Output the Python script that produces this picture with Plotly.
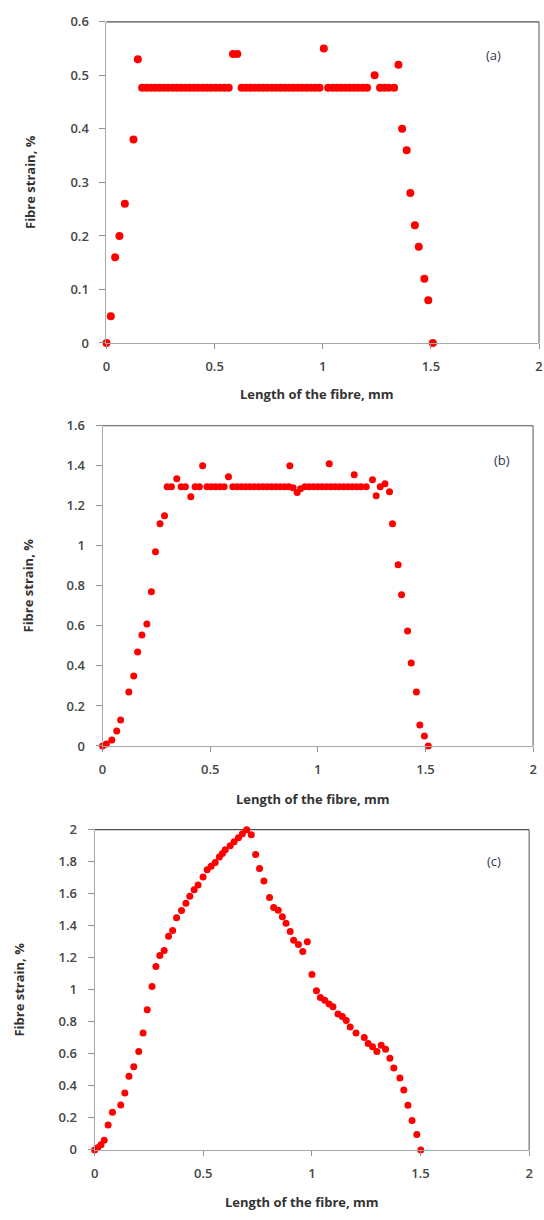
import plotly.graph_objects as go

# ---------------- data ----------------
A_X = [0, 0.02, 0.04, 0.06, 0.085, 0.125, 0.145,
       0.165, 0.185, 0.205, 0.225, 0.245, 0.265, 0.285, 0.305, 0.325, 0.345, 0.365,
       0.385, 0.405, 0.425, 0.445, 0.465, 0.485, 0.505, 0.525, 0.545, 0.565,
       0.585, 0.605,
       0.625, 0.645, 0.665, 0.685, 0.705, 0.725, 0.745, 0.765, 0.785, 0.805, 0.825,
       0.845, 0.865, 0.885, 0.905, 0.925, 0.945, 0.965, 0.985,
       1.005,
       1.025, 1.045, 1.065, 1.085, 1.105, 1.125, 1.145, 1.165, 1.185, 1.205,
       1.24,
       1.265, 1.285, 1.305, 1.33,
       1.35, 1.367, 1.388, 1.405, 1.426, 1.444, 1.47, 1.488, 1.509]
A_Y = [0, 0.05, 0.16, 0.2, 0.26, 0.38, 0.53,
       0.477, 0.477, 0.477, 0.477, 0.477, 0.477, 0.477, 0.477, 0.477, 0.477, 0.477,
       0.477, 0.477, 0.477, 0.477, 0.477, 0.477, 0.477, 0.477, 0.477, 0.477,
       0.54, 0.54,
       0.477, 0.477, 0.477, 0.477, 0.477, 0.477, 0.477, 0.477, 0.477, 0.477, 0.477,
       0.477, 0.477, 0.477, 0.477, 0.477, 0.477, 0.477, 0.477,
       0.55,
       0.477, 0.477, 0.477, 0.477, 0.477, 0.477, 0.477, 0.477, 0.477, 0.477,
       0.50,
       0.477, 0.477, 0.477, 0.477,
       0.52, 0.40, 0.36, 0.28, 0.22, 0.18, 0.12, 0.08, 0]

B_X = [0, 0.018, 0.043, 0.066, 0.084, 0.122, 0.145, 0.163, 0.183, 0.206, 0.227, 0.246,
       0.267, 0.288,
       0.30, 0.32, 0.345, 0.365, 0.385, 0.41, 0.43, 0.45, 0.465, 0.485, 0.505, 0.525,
       0.545, 0.565, 0.585, 0.605, 0.625, 0.645, 0.665, 0.685, 0.705, 0.725, 0.745,
       0.765, 0.785, 0.805, 0.825, 0.845, 0.865, 0.87, 0.885, 0.904, 0.92, 0.94,
       0.96, 0.98, 1.00, 1.02, 1.04, 1.053, 1.06, 1.08, 1.10, 1.12, 1.14, 1.16, 1.169,
       1.18, 1.20, 1.225, 1.254, 1.271, 1.29, 1.312, 1.333,
       1.347, 1.373, 1.389, 1.417, 1.434, 1.458, 1.474, 1.495, 1.513]
B_Y = [0, 0.01, 0.03, 0.075, 0.13, 0.27, 0.35, 0.47, 0.555, 0.61, 0.77, 0.97,
       1.11, 1.15,
       1.295, 1.295, 1.335, 1.295, 1.295, 1.245, 1.295, 1.295, 1.40, 1.295, 1.295, 1.295,
       1.295, 1.295, 1.345, 1.295, 1.295, 1.295, 1.295, 1.295, 1.295, 1.295, 1.295,
       1.295, 1.295, 1.295, 1.295, 1.295, 1.295, 1.40, 1.29, 1.267, 1.285, 1.295,
       1.295, 1.295, 1.295, 1.295, 1.295, 1.41, 1.295, 1.295, 1.295, 1.295, 1.295, 1.295, 1.355,
       1.295, 1.295, 1.295, 1.33, 1.25, 1.295, 1.31, 1.27,
       1.11, 0.905, 0.755, 0.575, 0.415, 0.27, 0.105, 0.05, 0]

C_X = [0, 0.014, 0.029, 0.044, 0.062, 0.082, 0.12, 0.139, 0.158, 0.18, 0.203, 0.223,
       0.242, 0.264, 0.282, 0.30, 0.32, 0.34, 0.359, 0.377, 0.40, 0.42, 0.438, 0.458,
       0.476, 0.499, 0.518, 0.536, 0.555, 0.574, 0.588, 0.601, 0.624, 0.642, 0.662,
       0.68, 0.70, 0.721, 0.741, 0.759, 0.779, 0.805, 0.824, 0.845, 0.864, 0.881,
       0.90, 0.916, 0.938, 0.958, 0.979, 1.0, 1.021, 1.039, 1.059, 1.079, 1.097,
       1.12, 1.14, 1.158, 1.176, 1.203, 1.241, 1.259, 1.279, 1.299, 1.319, 1.339,
       1.359, 1.377, 1.405, 1.423, 1.442, 1.461, 1.483, 1.501]
C_Y = [0, 0.014, 0.033, 0.06, 0.155, 0.235, 0.28, 0.355, 0.46, 0.52, 0.615, 0.73,
       0.875, 1.02, 1.145, 1.215, 1.245, 1.335, 1.37, 1.45, 1.495, 1.54, 1.585, 1.625,
       1.655, 1.705, 1.75, 1.772, 1.795, 1.83, 1.852, 1.875, 1.90, 1.925, 1.95,
       1.975, 2.0, 1.968, 1.845, 1.758, 1.68, 1.577, 1.514, 1.497, 1.456, 1.415,
       1.365, 1.309, 1.283, 1.239, 1.30, 1.095, 0.994, 0.952, 0.935, 0.911, 0.894,
       0.849, 0.833, 0.808, 0.767, 0.73, 0.702, 0.665, 0.644, 0.614, 0.654, 0.628,
       0.572, 0.511, 0.449, 0.374, 0.279, 0.183, 0.097, 0]

X_TICKS = [0, 0.5, 1, 1.5, 2]
PANEL_LABELS = ["(a)", "(b)", "(c)"]
X_TITLE = "Length of the fibre, mm"
Y_TITLE = "Fibre strain, %"

# ---------------- layout geometry (pixels of a 544x1220 page) ----------------
W, H = 544, 1220
panels = [
    dict(x=A_X, y=A_Y, px=(104, 543), py=(13, 339), ymax=0.6, dtick=0.1, ms=8,
         ytx=27, xty=391, xtx=318, lab=(497, 47)),
    dict(x=B_X, y=B_Y, px=(100, 537), py=(423, 748), ymax=1.6, dtick=0.2, ms=7,
         ytx=24, xty=802, xtx=314, lab=(505, 458)),
    dict(x=C_X, y=C_Y, px=(92, 533), py=(833, 1158), ymax=2.0, dtick=0.2, ms=7,
         ytx=15, xty=1211, xtx=302, lab=(497, 865)),
]

FONT = "Open Sans"
tick_font = dict(family=FONT, size=13, color="#454545", weight=600)
title_font = dict(family=FONT, size=13, color="#333333", weight=700)

fig = go.Figure()
layout = dict(width=W, height=H, margin=dict(l=0, r=0, t=0, b=0),
              paper_bgcolor="white", plot_bgcolor="white", showlegend=False)
annotations = []
shapes = []

for i, p in enumerate(panels):
    k = "" if i == 0 else str(i + 1)
    fig.add_trace(go.Scatter(x=p["x"], y=p["y"], mode="markers",
                             marker=dict(color="#FF0000", size=p["ms"]),
                             cliponaxis=False, xaxis="x" + k, yaxis="y" + k))
    xd = [p["px"][0] / W, p["px"][1] / W]
    yd = [1 - p["py"][1] / H, 1 - p["py"][0] / H]
    layout["xaxis" + k] = dict(domain=xd, anchor="y" + k, range=[0, 2],
                               tickvals=X_TICKS, ticks="outside", ticklen=5,
                               tickcolor="#909090", showline=True, linecolor="#A8A8A8",
                               linewidth=1, showgrid=False, zeroline=False,
                               tickfont=tick_font, ticklabelstandoff=6,
                               ticklabeloverflow="allow")
    layout["yaxis" + k] = dict(domain=yd, anchor="x" + k, range=[0, p["ymax"]],
                               dtick=p["dtick"], tick0=0, ticks="outside", ticklen=6,
                               tickcolor="#909090", showline=True, linecolor="#A8A8A8",
                               linewidth=1, showgrid=False, zeroline=False,
                               tickfont=tick_font, ticklabelstandoff=8,
                               ticklabeloverflow="allow")
    xr, yr = "x" + k + " domain", "y" + k + " domain"
    shapes.append(dict(type="line", xref=xr, yref=yr, x0=0, x1=1, y0=1, y1=1,
                       line=dict(color="#505050", width=1.2), layer="below"))
    shapes.append(dict(type="line", xref=xr, yref=yr, x0=1, x1=1, y0=0, y1=1,
                       line=dict(color="#707070", width=1.2), layer="below"))
    annotations.append(dict(text=Y_TITLE, xref="paper", yref="paper",
                            x=p["ytx"] / W, y=1 - (p["py"][0] + p["py"][1]) / 2 / H,
                            textangle=-90, showarrow=False, font=title_font,
                            xanchor="center", yanchor="middle"))
    annotations.append(dict(text=X_TITLE, xref="paper", yref="paper",
                            x=p["xtx"] / W, y=1 - p["xty"] / H, showarrow=False,
                            font=title_font, xanchor="center", yanchor="middle"))
    annotations.append(dict(text=PANEL_LABELS[i], xref="paper", yref="paper",
                            x=p["lab"][0] / W, y=1 - p["lab"][1] / H, showarrow=False,
                            font=dict(family=FONT, size=13, color="#2F3550"),
                            xanchor="center", yanchor="middle"))

layout["annotations"] = annotations
layout["shapes"] = shapes
fig.update_layout(**layout)
fig.write_html("out.html", config={"displayModeBar": False},
               post_script="document.body.style.margin='0';document.body.style.overflow='hidden';")
